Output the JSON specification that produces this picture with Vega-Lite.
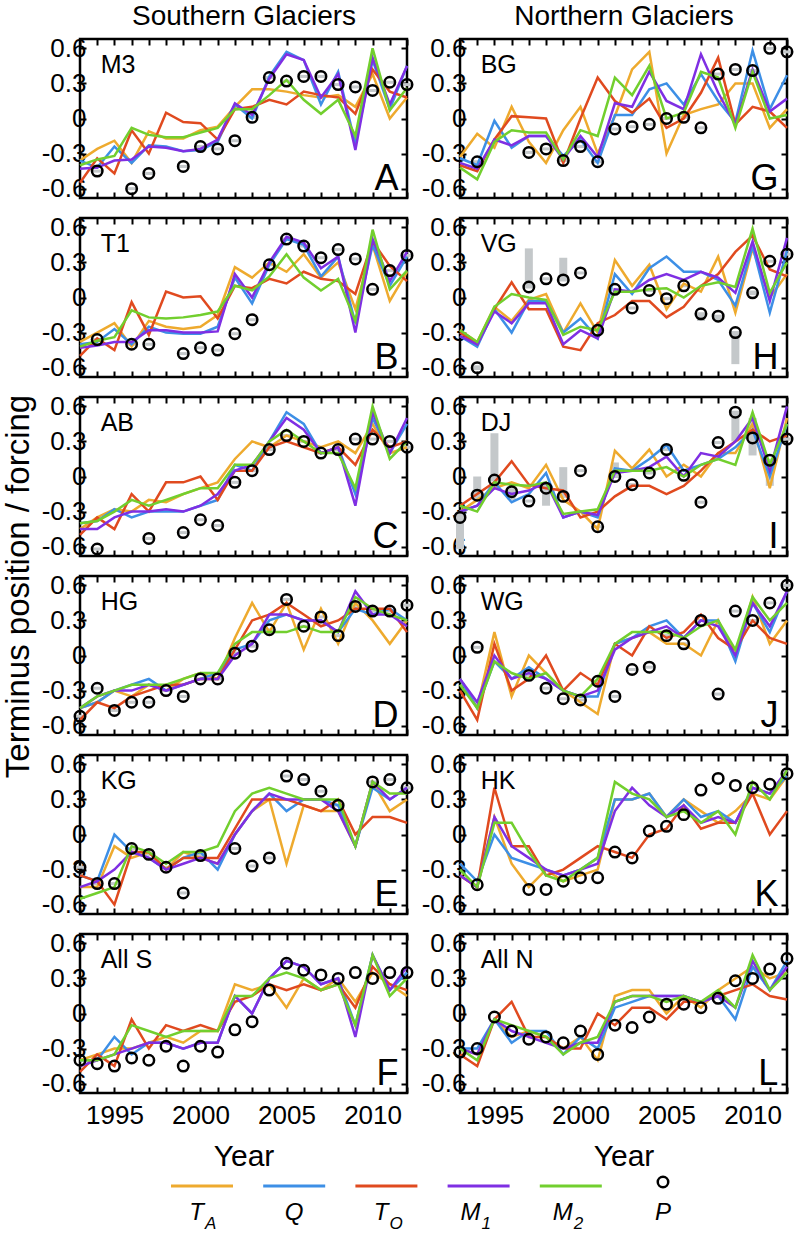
{
"$schema":"https://vega.github.io/schema/vega-lite/v6.json",
"padding":{"left":0,"top":0,"right":0,"bottom":0},
"background":"white",
"config":{"font":"Liberation Sans","view":{"stroke":"black","strokeWidth":2.5},
"axis":{"domain":false,"grid":false,"tickColor":"black","tickWidth":2,"tickSize":-6,"labelFont":"Liberation Sans","labelFontSize":26,"labelColor":"black","labelPadding":0,"labelOverlap":false,"labelFlush":false,"labelBound":false,"titleFont":"Liberation Sans","titleFontSize":30,"titleFontWeight":"normal","titleColor":"black"}},
"datasets":{
"lab":[{"p":"A","name":"M3"},{"p":"B","name":"T1"},{"p":"C","name":"AB"},{"p":"D","name":"HG"},{"p":"E","name":"KG"},{"p":"F","name":"All S"},{"p":"G","name":"BG"},{"p":"H","name":"VG"},{"p":"I","name":"DJ"},{"p":"J","name":"WG"},{"p":"K","name":"HK"},{"p":"L","name":"All N"}],
"leg":[{"k":"TA","m":"T","s":"A"},{"k":"Q","m":"Q","s":""},{"k":"TO","m":"T","s":"O"},{"k":"M1","m":"M","s":"1"},{"k":"M2","m":"M","s":"2"},{"k":"P","m":"P","s":""}],
"bars":[{"p":"H","y":1994,"lo":-0.62,"hi":-0.58},{"p":"H","y":1997,"lo":0.09,"hi":0.42},{"p":"H","y":1999,"lo":0.15,"hi":0.34},{"p":"H","y":2007,"lo":-0.2,"hi":-0.13},{"p":"H","y":2008,"lo":-0.2,"hi":-0.15},{"p":"H","y":2009,"lo":-0.57,"hi":-0.3},{"p":"H","y":2010,"lo":0.02,"hi":0.06},
{"p":"I","y":1993,"lo":-0.62,"hi":-0.3},{"p":"I","y":1994,"lo":-0.2,"hi":0.0},{"p":"I","y":1995,"lo":-0.03,"hi":0.37},{"p":"I","y":1996,"lo":-0.2,"hi":-0.1},{"p":"I","y":1998,"lo":-0.25,"hi":-0.05},{"p":"I","y":1999,"lo":-0.17,"hi":0.08},{"p":"I","y":2002,"lo":0.0,"hi":0.12},{"p":"I","y":2009,"lo":0.3,"hi":0.55},{"p":"I","y":2010,"lo":0.18,"hi":0.5},{"p":"I","y":2011,"lo":-0.08,"hi":0.15}],
"d":[
{"p":"A","y":1993,"TA":-0.36,"Q":-0.36,"TO":-0.55,"M1":-0.43,"M2":-0.4,"P":null},
{"p":"A","y":1994,"TA":-0.26,"Q":-0.42,"TO":-0.34,"M1":-0.42,"M2":-0.35,"P":-0.45},
{"p":"A","y":1995,"TA":-0.19,"Q":-0.24,"TO":-0.47,"M1":-0.36,"M2":-0.32,"P":null},
{"p":"A","y":1996,"TA":-0.38,"Q":-0.38,"TO":-0.1,"M1":-0.35,"M2":-0.08,"P":-0.6},
{"p":"A","y":1997,"TA":-0.11,"Q":-0.23,"TO":-0.3,"M1":-0.24,"M2":-0.14,"P":-0.47},
{"p":"A","y":1998,"TA":-0.17,"Q":-0.24,"TO":0.05,"M1":-0.25,"M2":-0.16,"P":null},
{"p":"A","y":1999,"TA":-0.17,"Q":-0.28,"TO":-0.03,"M1":-0.28,"M2":-0.16,"P":-0.41},
{"p":"A","y":2000,"TA":-0.1,"Q":-0.27,"TO":-0.04,"M1":-0.26,"M2":-0.12,"P":-0.24},
{"p":"A","y":2001,"TA":-0.07,"Q":-0.2,"TO":-0.18,"M1":-0.18,"M2":-0.08,"P":-0.26},
{"p":"A","y":2002,"TA":0.1,"Q":0.12,"TO":0.08,"M1":0.13,"M2":0.08,"P":-0.19},
{"p":"A","y":2003,"TA":0.25,"Q":0.0,"TO":0.1,"M1":0.03,"M2":0.08,"P":0.01},
{"p":"A","y":2004,"TA":0.25,"Q":0.36,"TO":0.16,"M1":0.34,"M2":0.2,"P":0.35},
{"p":"A","y":2005,"TA":0.23,"Q":0.57,"TO":0.12,"M1":0.55,"M2":0.33,"P":0.32},
{"p":"A","y":2006,"TA":0.2,"Q":0.5,"TO":0.23,"M1":0.5,"M2":0.16,"P":0.36},
{"p":"A","y":2007,"TA":0.18,"Q":0.12,"TO":0.2,"M1":0.18,"M2":0.04,"P":0.36},
{"p":"A","y":2008,"TA":0.2,"Q":0.4,"TO":0.18,"M1":0.38,"M2":0.16,"P":0.29},
{"p":"A","y":2009,"TA":0.1,"Q":-0.22,"TO":0.04,"M1":-0.27,"M2":-0.15,"P":0.27},
{"p":"A","y":2010,"TA":0.38,"Q":0.5,"TO":0.42,"M1":0.52,"M2":0.6,"P":0.24},
{"p":"A","y":2011,"TA":0.0,"Q":0.08,"TO":0.23,"M1":0.12,"M2":0.07,"P":0.31},
{"p":"A","y":2012,"TA":0.18,"Q":0.45,"TO":0.18,"M1":0.45,"M2":0.26,"P":0.29},
{"p":"B","y":1993,"TA":-0.38,"Q":-0.4,"TO":-0.5,"M1":-0.43,"M2":-0.42,"P":null},
{"p":"B","y":1994,"TA":-0.3,"Q":-0.38,"TO":-0.35,"M1":-0.41,"M2":-0.37,"P":-0.36},
{"p":"B","y":1995,"TA":-0.22,"Q":-0.27,"TO":-0.45,"M1":-0.38,"M2":-0.34,"P":null},
{"p":"B","y":1996,"TA":-0.42,"Q":-0.4,"TO":-0.04,"M1":-0.38,"M2":-0.11,"P":-0.4},
{"p":"B","y":1997,"TA":-0.2,"Q":-0.25,"TO":-0.32,"M1":-0.28,"M2":-0.17,"P":-0.4},
{"p":"B","y":1998,"TA":-0.25,"Q":-0.3,"TO":0.05,"M1":-0.28,"M2":-0.18,"P":null},
{"p":"B","y":1999,"TA":-0.27,"Q":-0.31,"TO":0.0,"M1":-0.3,"M2":-0.17,"P":-0.48},
{"p":"B","y":2000,"TA":-0.25,"Q":-0.31,"TO":0.01,"M1":-0.3,"M2":-0.15,"P":-0.43},
{"p":"B","y":2001,"TA":-0.15,"Q":-0.25,"TO":-0.18,"M1":-0.29,"M2":-0.12,"P":-0.45},
{"p":"B","y":2002,"TA":0.26,"Q":0.17,"TO":0.1,"M1":0.2,"M2":0.1,"P":-0.31},
{"p":"B","y":2003,"TA":0.17,"Q":-0.05,"TO":0.08,"M1":0.0,"M2":0.06,"P":-0.19},
{"p":"B","y":2004,"TA":0.3,"Q":0.28,"TO":0.16,"M1":0.3,"M2":0.18,"P":0.28},
{"p":"B","y":2005,"TA":0.22,"Q":0.5,"TO":0.12,"M1":0.52,"M2":0.37,"P":0.5},
{"p":"B","y":2006,"TA":0.37,"Q":0.45,"TO":0.22,"M1":0.47,"M2":0.17,"P":0.44},
{"p":"B","y":2007,"TA":0.17,"Q":0.18,"TO":0.16,"M1":0.25,"M2":0.06,"P":0.34},
{"p":"B","y":2008,"TA":0.3,"Q":0.35,"TO":0.14,"M1":0.35,"M2":0.16,"P":0.41},
{"p":"B","y":2009,"TA":-0.1,"Q":-0.22,"TO":0.03,"M1":-0.3,"M2":-0.2,"P":0.33},
{"p":"B","y":2010,"TA":0.45,"Q":0.45,"TO":0.48,"M1":0.5,"M2":0.58,"P":0.07},
{"p":"B","y":2011,"TA":-0.03,"Q":0.1,"TO":0.27,"M1":0.14,"M2":0.07,"P":0.23},
{"p":"B","y":2012,"TA":0.22,"Q":0.35,"TO":0.14,"M1":0.39,"M2":0.23,"P":0.36},
{"p":"C","y":1993,"TA":-0.45,"Q":-0.4,"TO":-0.5,"M1":-0.45,"M2":-0.4,"P":null},
{"p":"C","y":1994,"TA":-0.35,"Q":-0.38,"TO":-0.35,"M1":-0.45,"M2":-0.38,"P":-0.62},
{"p":"C","y":1995,"TA":-0.28,"Q":-0.28,"TO":-0.45,"M1":-0.35,"M2":-0.3,"P":null},
{"p":"C","y":1996,"TA":-0.3,"Q":-0.35,"TO":-0.15,"M1":-0.3,"M2":-0.2,"P":null},
{"p":"C","y":1997,"TA":-0.2,"Q":-0.3,"TO":-0.3,"M1":-0.3,"M2":-0.25,"P":-0.53},
{"p":"C","y":1998,"TA":-0.22,"Q":-0.3,"TO":-0.05,"M1":-0.28,"M2":-0.2,"P":null},
{"p":"C","y":1999,"TA":-0.15,"Q":-0.3,"TO":-0.05,"M1":-0.3,"M2":-0.15,"P":-0.48},
{"p":"C","y":2000,"TA":-0.1,"Q":-0.25,"TO":0.0,"M1":-0.25,"M2":-0.1,"P":-0.37},
{"p":"C","y":2001,"TA":-0.05,"Q":-0.2,"TO":-0.2,"M1":-0.15,"M2":-0.1,"P":-0.42},
{"p":"C","y":2002,"TA":0.15,"Q":0.1,"TO":0.05,"M1":0.05,"M2":0.1,"P":-0.05},
{"p":"C","y":2003,"TA":0.3,"Q":0.05,"TO":0.05,"M1":0.1,"M2":0.1,"P":0.05},
{"p":"C","y":2004,"TA":0.25,"Q":0.3,"TO":0.25,"M1":0.3,"M2":0.3,"P":0.23},
{"p":"C","y":2005,"TA":0.35,"Q":0.55,"TO":0.3,"M1":0.5,"M2":0.4,"P":0.35},
{"p":"C","y":2006,"TA":0.3,"Q":0.45,"TO":0.25,"M1":0.4,"M2":0.3,"P":0.3},
{"p":"C","y":2007,"TA":0.25,"Q":0.2,"TO":0.2,"M1":0.2,"M2":0.2,"P":0.2},
{"p":"C","y":2008,"TA":0.3,"Q":0.25,"TO":0.25,"M1":0.25,"M2":0.2,"P":0.23},
{"p":"C","y":2009,"TA":0.2,"Q":-0.15,"TO":0.1,"M1":-0.25,"M2":-0.1,"P":0.32},
{"p":"C","y":2010,"TA":0.45,"Q":0.5,"TO":0.4,"M1":0.55,"M2":0.6,"P":0.32},
{"p":"C","y":2011,"TA":0.2,"Q":0.2,"TO":0.25,"M1":0.2,"M2":0.15,"P":0.3},
{"p":"C","y":2012,"TA":0.25,"Q":0.45,"TO":0.3,"M1":0.5,"M2":0.3,"P":0.25},
{"p":"D","y":1993,"TA":-0.45,"Q":-0.45,"TO":-0.55,"M1":-0.45,"M2":-0.45,"P":-0.52},
{"p":"D","y":1994,"TA":-0.4,"Q":-0.4,"TO":-0.4,"M1":-0.35,"M2":-0.35,"P":-0.28},
{"p":"D","y":1995,"TA":-0.3,"Q":-0.3,"TO":-0.45,"M1":-0.3,"M2":-0.3,"P":-0.47},
{"p":"D","y":1996,"TA":-0.35,"Q":-0.25,"TO":-0.35,"M1":-0.3,"M2":-0.25,"P":-0.4},
{"p":"D","y":1997,"TA":-0.25,"Q":-0.2,"TO":-0.3,"M1":-0.25,"M2":-0.25,"P":-0.4},
{"p":"D","y":1998,"TA":-0.3,"Q":-0.3,"TO":-0.25,"M1":-0.3,"M2":-0.25,"P":-0.3},
{"p":"D","y":1999,"TA":-0.2,"Q":-0.25,"TO":-0.25,"M1":-0.25,"M2":-0.2,"P":-0.35},
{"p":"D","y":2000,"TA":-0.15,"Q":-0.2,"TO":-0.2,"M1":-0.2,"M2":-0.15,"P":-0.2},
{"p":"D","y":2001,"TA":-0.2,"Q":-0.15,"TO":-0.2,"M1":-0.2,"M2":-0.15,"P":-0.2},
{"p":"D","y":2002,"TA":0.15,"Q":0.05,"TO":0.05,"M1":0.0,"M2":0.1,"P":0.02},
{"p":"D","y":2003,"TA":0.45,"Q":0.1,"TO":0.3,"M1":0.1,"M2":0.2,"P":0.08},
{"p":"D","y":2004,"TA":0.2,"Q":0.3,"TO":0.35,"M1":0.35,"M2":0.2,"P":0.22},
{"p":"D","y":2005,"TA":0.45,"Q":0.35,"TO":0.45,"M1":0.35,"M2":0.2,"P":0.48},
{"p":"D","y":2006,"TA":0.05,"Q":0.3,"TO":0.35,"M1":0.3,"M2":0.25,"P":0.25},
{"p":"D","y":2007,"TA":0.4,"Q":0.3,"TO":0.25,"M1":0.3,"M2":0.2,"P":0.33},
{"p":"D","y":2008,"TA":0.1,"Q":0.2,"TO":0.3,"M1":0.2,"M2":0.2,"P":0.17},
{"p":"D","y":2009,"TA":0.45,"Q":0.4,"TO":0.4,"M1":0.55,"M2":0.5,"P":0.42},
{"p":"D","y":2010,"TA":0.3,"Q":0.35,"TO":0.4,"M1":0.35,"M2":0.4,"P":0.38},
{"p":"D","y":2011,"TA":0.1,"Q":0.4,"TO":0.4,"M1":0.35,"M2":0.35,"P":0.38},
{"p":"D","y":2012,"TA":0.3,"Q":0.3,"TO":0.2,"M1":0.25,"M2":0.3,"P":0.43},
{"p":"E","y":1993,"TA":-0.45,"Q":-0.35,"TO":-0.35,"M1":-0.45,"M2":-0.55,"P":-0.28},
{"p":"E","y":1994,"TA":-0.45,"Q":-0.4,"TO":-0.4,"M1":-0.4,"M2":-0.5,"P":-0.42},
{"p":"E","y":1995,"TA":-0.1,"Q":0.0,"TO":-0.6,"M1":-0.3,"M2":-0.45,"P":-0.42},
{"p":"E","y":1996,"TA":-0.2,"Q":-0.15,"TO":-0.15,"M1":-0.15,"M2":-0.1,"P":-0.12},
{"p":"E","y":1997,"TA":-0.15,"Q":-0.2,"TO":-0.15,"M1":-0.2,"M2":-0.15,"P":-0.17},
{"p":"E","y":1998,"TA":-0.3,"Q":-0.3,"TO":-0.3,"M1":-0.3,"M2":-0.25,"P":-0.28},
{"p":"E","y":1999,"TA":-0.15,"Q":-0.2,"TO":-0.2,"M1":-0.25,"M2":-0.15,"P":-0.5},
{"p":"E","y":2000,"TA":-0.2,"Q":-0.15,"TO":-0.2,"M1":-0.2,"M2":-0.15,"P":-0.18},
{"p":"E","y":2001,"TA":-0.25,"Q":-0.3,"TO":-0.2,"M1":-0.25,"M2":-0.1,"P":null},
{"p":"E","y":2002,"TA":0.0,"Q":0.0,"TO":0.05,"M1":0.0,"M2":0.2,"P":-0.12},
{"p":"E","y":2003,"TA":0.2,"Q":0.2,"TO":0.3,"M1":0.2,"M2":0.35,"P":-0.27},
{"p":"E","y":2004,"TA":0.3,"Q":0.35,"TO":0.3,"M1":0.35,"M2":0.4,"P":-0.2},
{"p":"E","y":2005,"TA":-0.25,"Q":0.2,"TO":0.3,"M1":0.3,"M2":0.35,"P":0.5},
{"p":"E","y":2006,"TA":0.25,"Q":0.3,"TO":0.25,"M1":0.3,"M2":0.3,"P":0.47},
{"p":"E","y":2007,"TA":0.2,"Q":0.3,"TO":0.2,"M1":0.3,"M2":0.3,"P":0.37},
{"p":"E","y":2008,"TA":0.2,"Q":0.25,"TO":0.3,"M1":0.2,"M2":0.3,"P":0.25},
{"p":"E","y":2009,"TA":-0.1,"Q":-0.1,"TO":0.0,"M1":-0.1,"M2":-0.1,"P":null},
{"p":"E","y":2010,"TA":0.45,"Q":0.4,"TO":0.15,"M1":0.45,"M2":0.45,"P":0.45},
{"p":"E","y":2011,"TA":0.2,"Q":0.3,"TO":0.15,"M1":0.3,"M2":0.35,"P":0.47},
{"p":"E","y":2012,"TA":0.3,"Q":0.4,"TO":0.1,"M1":0.4,"M2":0.35,"P":0.4},
{"p":"F","y":1993,"TA":-0.4,"Q":-0.4,"TO":-0.5,"M1":-0.45,"M2":-0.4,"P":-0.4},
{"p":"F","y":1994,"TA":-0.35,"Q":-0.4,"TO":-0.35,"M1":-0.4,"M2":-0.4,"P":-0.43},
{"p":"F","y":1995,"TA":-0.3,"Q":-0.2,"TO":-0.45,"M1":-0.35,"M2":-0.35,"P":-0.45},
{"p":"F","y":1996,"TA":-0.3,"Q":-0.35,"TO":-0.05,"M1":-0.3,"M2":-0.1,"P":-0.38},
{"p":"F","y":1997,"TA":-0.25,"Q":-0.25,"TO":-0.3,"M1":-0.25,"M2":-0.15,"P":-0.4},
{"p":"F","y":1998,"TA":-0.2,"Q":-0.25,"TO":-0.1,"M1":-0.25,"M2":-0.2,"P":-0.28},
{"p":"F","y":1999,"TA":-0.25,"Q":-0.3,"TO":-0.15,"M1":-0.3,"M2":-0.15,"P":-0.45},
{"p":"F","y":2000,"TA":-0.15,"Q":-0.25,"TO":-0.1,"M1":-0.25,"M2":-0.15,"P":-0.28},
{"p":"F","y":2001,"TA":-0.15,"Q":-0.25,"TO":-0.15,"M1":-0.25,"M2":-0.15,"P":-0.33},
{"p":"F","y":2002,"TA":0.25,"Q":0.15,"TO":0.1,"M1":0.15,"M2":0.15,"P":-0.14},
{"p":"F","y":2003,"TA":0.2,"Q":0.0,"TO":0.15,"M1":0.0,"M2":0.15,"P":-0.07},
{"p":"F","y":2004,"TA":0.25,"Q":0.3,"TO":0.25,"M1":0.3,"M2":0.3,"P":0.2},
{"p":"F","y":2005,"TA":0.05,"Q":0.45,"TO":0.2,"M1":0.45,"M2":0.35,"P":0.43},
{"p":"F","y":2006,"TA":0.3,"Q":0.4,"TO":0.25,"M1":0.4,"M2":0.3,"P":0.37},
{"p":"F","y":2007,"TA":0.2,"Q":0.25,"TO":0.2,"M1":0.25,"M2":0.2,"P":0.33},
{"p":"F","y":2008,"TA":0.3,"Q":0.3,"TO":0.25,"M1":0.3,"M2":0.25,"P":0.3},
{"p":"F","y":2009,"TA":0.1,"Q":-0.1,"TO":0.05,"M1":-0.2,"M2":-0.1,"P":0.35},
{"p":"F","y":2010,"TA":0.35,"Q":0.5,"TO":0.4,"M1":0.5,"M2":0.5,"P":0.3},
{"p":"F","y":2011,"TA":0.25,"Q":0.2,"TO":0.25,"M1":0.2,"M2":0.15,"P":0.35},
{"p":"F","y":2012,"TA":0.15,"Q":0.35,"TO":0.2,"M1":0.4,"M2":0.3,"P":0.35},
{"p":"G","y":1993,"TA":-0.33,"Q":-0.34,"TO":-0.4,"M1":-0.38,"M2":-0.42,"P":null},
{"p":"G","y":1994,"TA":-0.13,"Q":-0.4,"TO":-0.45,"M1":-0.43,"M2":-0.52,"P":-0.37},
{"p":"G","y":1995,"TA":-0.25,"Q":-0.02,"TO":-0.18,"M1":-0.18,"M2":-0.2,"P":null},
{"p":"G","y":1996,"TA":0.1,"Q":-0.25,"TO":0.02,"M1":-0.23,"M2":-0.1,"P":null},
{"p":"G","y":1997,"TA":-0.2,"Q":-0.15,"TO":0.01,"M1":-0.15,"M2":-0.12,"P":-0.29},
{"p":"G","y":1998,"TA":-0.38,"Q":-0.15,"TO":0.0,"M1":-0.15,"M2":-0.12,"P":-0.26},
{"p":"G","y":1999,"TA":-0.1,"Q":-0.32,"TO":-0.38,"M1":-0.35,"M2":-0.35,"P":-0.36},
{"p":"G","y":2000,"TA":0.1,"Q":-0.18,"TO":0.0,"M1":-0.15,"M2":-0.1,"P":-0.24},
{"p":"G","y":2001,"TA":-0.3,"Q":-0.38,"TO":0.35,"M1":-0.33,"M2":-0.15,"P":-0.37},
{"p":"G","y":2002,"TA":0.02,"Q":0.03,"TO":0.15,"M1":0.13,"M2":0.35,"P":-0.09},
{"p":"G","y":2003,"TA":0.42,"Q":0.03,"TO":0.05,"M1":0.1,"M2":0.2,"P":-0.07},
{"p":"G","y":2004,"TA":0.57,"Q":0.25,"TO":0.17,"M1":0.4,"M2":0.45,"P":-0.05},
{"p":"G","y":2005,"TA":-0.3,"Q":0.3,"TO":-0.08,"M1":0.15,"M2":0.0,"P":0.0},
{"p":"G","y":2006,"TA":0.03,"Q":0.12,"TO":0.0,"M1":0.08,"M2":0.05,"P":0.01},
{"p":"G","y":2007,"TA":0.08,"Q":0.38,"TO":0.22,"M1":0.55,"M2":0.4,"P":-0.08},
{"p":"G","y":2008,"TA":0.12,"Q":0.15,"TO":0.52,"M1":0.22,"M2":0.35,"P":0.38},
{"p":"G","y":2009,"TA":0.3,"Q":-0.03,"TO":-0.05,"M1":-0.05,"M2":-0.08,"P":0.42},
{"p":"G","y":2010,"TA":0.3,"Q":0.58,"TO":0.1,"M1":0.42,"M2":0.4,"P":0.41},
{"p":"G","y":2011,"TA":-0.08,"Q":0.08,"TO":0.06,"M1":0.06,"M2":0.0,"P":0.6},
{"p":"G","y":2012,"TA":0.08,"Q":0.37,"TO":-0.08,"M1":0.17,"M2":0.03,"P":0.57},
{"p":"H","y":1993,"TA":-0.28,"Q":-0.33,"TO":-0.3,"M1":-0.33,"M2":-0.28,"P":null},
{"p":"H","y":1994,"TA":-0.38,"Q":-0.42,"TO":-0.4,"M1":-0.4,"M2":-0.38,"P":-0.6},
{"p":"H","y":1995,"TA":-0.08,"Q":-0.1,"TO":-0.1,"M1":-0.12,"M2":-0.08,"P":null},
{"p":"H","y":1996,"TA":-0.2,"Q":-0.3,"TO":0.13,"M1":-0.22,"M2":0.03,"P":null},
{"p":"H","y":1997,"TA":-0.02,"Q":-0.03,"TO":-0.1,"M1":-0.05,"M2":0.0,"P":0.09},
{"p":"H","y":1998,"TA":0.03,"Q":-0.03,"TO":-0.1,"M1":-0.05,"M2":-0.02,"P":0.16},
{"p":"H","y":1999,"TA":-0.3,"Q":-0.3,"TO":-0.42,"M1":-0.4,"M2":-0.32,"P":0.15},
{"p":"H","y":2000,"TA":-0.05,"Q":-0.18,"TO":-0.45,"M1":-0.28,"M2":-0.25,"P":0.21},
{"p":"H","y":2001,"TA":-0.3,"Q":-0.35,"TO":-0.22,"M1":-0.35,"M2":-0.28,"P":-0.28},
{"p":"H","y":2002,"TA":0.32,"Q":0.2,"TO":-0.15,"M1":0.07,"M2":0.05,"P":0.07},
{"p":"H","y":2003,"TA":0.1,"Q":0.03,"TO":-0.03,"M1":0.05,"M2":0.05,"P":-0.09},
{"p":"H","y":2004,"TA":0.28,"Q":0.25,"TO":-0.03,"M1":0.15,"M2":0.07,"P":0.06},
{"p":"H","y":2005,"TA":-0.1,"Q":0.35,"TO":-0.17,"M1":0.2,"M2":0.08,"P":-0.01},
{"p":"H","y":2006,"TA":0.12,"Q":0.22,"TO":-0.08,"M1":0.15,"M2":0.0,"P":0.1},
{"p":"H","y":2007,"TA":0.05,"Q":0.22,"TO":0.1,"M1":0.22,"M2":0.1,"P":-0.14},
{"p":"H","y":2008,"TA":0.35,"Q":0.15,"TO":0.2,"M1":0.17,"M2":0.13,"P":-0.16},
{"p":"H","y":2009,"TA":-0.13,"Q":-0.07,"TO":0.39,"M1":0.04,"M2":0.09,"P":-0.3},
{"p":"H","y":2010,"TA":0.42,"Q":0.44,"TO":0.53,"M1":0.48,"M2":0.59,"P":0.04},
{"p":"H","y":2011,"TA":0.0,"Q":-0.13,"TO":0.24,"M1":-0.03,"M2":0.04,"P":0.31},
{"p":"H","y":2012,"TA":0.2,"Q":0.4,"TO":0.18,"M1":0.51,"M2":0.3,"P":0.37},
{"p":"I","y":1993,"TA":-0.3,"Q":-0.3,"TO":-0.25,"M1":-0.3,"M2":-0.25,"P":-0.35},
{"p":"I","y":1994,"TA":-0.2,"Q":-0.25,"TO":-0.15,"M1":-0.25,"M2":-0.3,"P":-0.16},
{"p":"I","y":1995,"TA":-0.1,"Q":-0.05,"TO":-0.05,"M1":-0.1,"M2":-0.05,"P":-0.03},
{"p":"I","y":1996,"TA":-0.05,"Q":-0.22,"TO":0.13,"M1":-0.15,"M2":-0.07,"P":-0.13},
{"p":"I","y":1997,"TA":-0.1,"Q":-0.15,"TO":-0.07,"M1":-0.12,"M2":-0.08,"P":-0.21},
{"p":"I","y":1998,"TA":0.1,"Q":0.03,"TO":-0.1,"M1":-0.05,"M2":-0.05,"P":-0.1},
{"p":"I","y":1999,"TA":-0.2,"Q":-0.35,"TO":-0.12,"M1":-0.35,"M2":-0.32,"P":-0.17},
{"p":"I","y":2000,"TA":-0.3,"Q":-0.3,"TO":-0.35,"M1":-0.3,"M2":-0.3,"P":0.05},
{"p":"I","y":2001,"TA":-0.45,"Q":-0.35,"TO":-0.3,"M1":-0.33,"M2":-0.28,"P":-0.43},
{"p":"I","y":2002,"TA":0.22,"Q":0.07,"TO":-0.17,"M1":0.03,"M2":0.05,"P":0.0},
{"p":"I","y":2003,"TA":0.07,"Q":0.05,"TO":-0.08,"M1":0.05,"M2":0.05,"P":-0.07},
{"p":"I","y":2004,"TA":0.23,"Q":0.15,"TO":-0.08,"M1":0.08,"M2":0.05,"P":0.03},
{"p":"I","y":2005,"TA":0.0,"Q":0.27,"TO":-0.15,"M1":0.17,"M2":0.08,"P":0.23},
{"p":"I","y":2006,"TA":0.1,"Q":0.05,"TO":-0.08,"M1":0.0,"M2":0.0,"P":0.01},
{"p":"I","y":2007,"TA":0.0,"Q":0.1,"TO":0.05,"M1":0.2,"M2":0.1,"P":-0.22},
{"p":"I","y":2008,"TA":0.2,"Q":0.15,"TO":0.2,"M1":0.17,"M2":0.15,"P":0.29},
{"p":"I","y":2009,"TA":0.2,"Q":0.25,"TO":0.3,"M1":0.3,"M2":0.1,"P":0.55},
{"p":"I","y":2010,"TA":0.45,"Q":0.4,"TO":0.4,"M1":0.5,"M2":0.55,"P":0.33},
{"p":"I","y":2011,"TA":-0.1,"Q":0.0,"TO":0.3,"M1":0.05,"M2":0.1,"P":0.14},
{"p":"I","y":2012,"TA":0.5,"Q":0.45,"TO":0.35,"M1":0.6,"M2":0.45,"P":0.32},
{"p":"J","y":1993,"TA":-0.2,"Q":-0.2,"TO":-0.3,"M1":-0.2,"M2":-0.25,"P":null},
{"p":"J","y":1994,"TA":-0.45,"Q":-0.45,"TO":-0.55,"M1":-0.4,"M2":-0.45,"P":0.07},
{"p":"J","y":1995,"TA":0.2,"Q":-0.05,"TO":0.1,"M1":0.0,"M2":-0.05,"P":null},
{"p":"J","y":1996,"TA":-0.35,"Q":-0.2,"TO":-0.3,"M1":-0.2,"M2":-0.15,"P":null},
{"p":"J","y":1997,"TA":0.0,"Q":-0.1,"TO":-0.2,"M1":-0.15,"M2":-0.2,"P":-0.17},
{"p":"J","y":1998,"TA":-0.15,"Q":-0.2,"TO":0.0,"M1":-0.2,"M2":-0.15,"P":-0.28},
{"p":"J","y":1999,"TA":-0.3,"Q":-0.3,"TO":-0.3,"M1":-0.3,"M2":-0.3,"P":-0.37},
{"p":"J","y":2000,"TA":-0.4,"Q":-0.35,"TO":-0.15,"M1":-0.35,"M2":-0.35,"P":-0.38},
{"p":"J","y":2001,"TA":-0.5,"Q":-0.35,"TO":-0.25,"M1":-0.3,"M2":-0.2,"P":-0.22},
{"p":"J","y":2002,"TA":0.1,"Q":0.1,"TO":0.1,"M1":0.05,"M2":0.1,"P":-0.35},
{"p":"J","y":2003,"TA":0.15,"Q":0.15,"TO":0.0,"M1":0.15,"M2":0.2,"P":-0.12},
{"p":"J","y":2004,"TA":0.2,"Q":0.25,"TO":0.25,"M1":0.2,"M2":0.2,"P":-0.1},
{"p":"J","y":2005,"TA":0.1,"Q":0.3,"TO":0.15,"M1":0.25,"M2":0.2,"P":0.17},
{"p":"J","y":2006,"TA":0.1,"Q":0.15,"TO":0.2,"M1":0.15,"M2":0.15,"P":0.1},
{"p":"J","y":2007,"TA":0.0,"Q":0.3,"TO":0.35,"M1":0.3,"M2":0.25,"P":0.3},
{"p":"J","y":2008,"TA":0.3,"Q":0.3,"TO":0.15,"M1":0.25,"M2":0.3,"P":-0.33},
{"p":"J","y":2009,"TA":0.0,"Q":-0.05,"TO":0.05,"M1":0.0,"M2":0.05,"P":0.38},
{"p":"J","y":2010,"TA":0.5,"Q":0.45,"TO":0.3,"M1":0.45,"M2":0.5,"P":0.3},
{"p":"J","y":2011,"TA":0.1,"Q":0.2,"TO":0.15,"M1":0.25,"M2":0.3,"P":0.45},
{"p":"J","y":2012,"TA":0.3,"Q":0.55,"TO":0.1,"M1":0.55,"M2":0.45,"P":0.6},
{"p":"K","y":1993,"TA":-0.35,"Q":-0.25,"TO":-0.35,"M1":-0.35,"M2":-0.3,"P":null},
{"p":"K","y":1994,"TA":-0.45,"Q":-0.4,"TO":-0.45,"M1":-0.45,"M2":-0.45,"P":-0.43},
{"p":"K","y":1995,"TA":0.15,"Q":0.0,"TO":0.4,"M1":0.15,"M2":0.1,"P":null},
{"p":"K","y":1996,"TA":-0.25,"Q":-0.2,"TO":-0.1,"M1":-0.1,"M2":0.1,"P":null},
{"p":"K","y":1997,"TA":-0.45,"Q":-0.25,"TO":-0.1,"M1":-0.2,"M2":-0.15,"P":-0.47},
{"p":"K","y":1998,"TA":-0.3,"Q":-0.3,"TO":-0.35,"M1":-0.3,"M2":-0.35,"P":-0.47},
{"p":"K","y":1999,"TA":-0.4,"Q":-0.35,"TO":-0.3,"M1":-0.35,"M2":-0.4,"P":-0.4},
{"p":"K","y":2000,"TA":-0.35,"Q":-0.3,"TO":-0.2,"M1":-0.3,"M2":-0.3,"P":-0.37},
{"p":"K","y":2001,"TA":-0.3,"Q":-0.2,"TO":-0.1,"M1":-0.25,"M2":-0.2,"P":-0.37},
{"p":"K","y":2002,"TA":0.3,"Q":0.3,"TO":-0.15,"M1":0.2,"M2":0.45,"P":-0.15},
{"p":"K","y":2003,"TA":0.3,"Q":0.3,"TO":-0.2,"M1":0.4,"M2":0.35,"P":-0.2},
{"p":"K","y":2004,"TA":0.35,"Q":0.35,"TO":0.0,"M1":0.25,"M2":0.3,"P":0.03},
{"p":"K","y":2005,"TA":0.15,"Q":0.15,"TO":0.05,"M1":0.15,"M2":0.15,"P":0.07},
{"p":"K","y":2006,"TA":0.3,"Q":0.3,"TO":0.25,"M1":0.25,"M2":0.2,"P":0.17},
{"p":"K","y":2007,"TA":0.2,"Q":0.15,"TO":0.05,"M1":0.1,"M2":0.1,"P":0.38},
{"p":"K","y":2008,"TA":0.1,"Q":0.2,"TO":0.1,"M1":0.15,"M2":0.2,"P":0.48},
{"p":"K","y":2009,"TA":0.2,"Q":0.1,"TO":0.1,"M1":0.1,"M2":0.0,"P":0.42},
{"p":"K","y":2010,"TA":0.35,"Q":0.4,"TO":0.35,"M1":0.4,"M2":0.45,"P":0.4},
{"p":"K","y":2011,"TA":0.3,"Q":0.35,"TO":0.0,"M1":0.35,"M2":0.3,"P":0.43},
{"p":"K","y":2012,"TA":0.5,"Q":0.5,"TO":0.2,"M1":0.55,"M2":0.55,"P":0.52},
{"p":"L","y":1993,"TA":-0.3,"Q":-0.3,"TO":-0.35,"M1":-0.3,"M2":-0.3,"P":-0.33},
{"p":"L","y":1994,"TA":-0.35,"Q":-0.3,"TO":-0.45,"M1":-0.35,"M2":-0.4,"P":-0.3},
{"p":"L","y":1995,"TA":-0.05,"Q":-0.05,"TO":-0.05,"M1":-0.05,"M2":-0.05,"P":-0.03},
{"p":"L","y":1996,"TA":-0.2,"Q":-0.25,"TO":0.1,"M1":-0.15,"M2":-0.1,"P":-0.15},
{"p":"L","y":1997,"TA":-0.15,"Q":-0.15,"TO":-0.2,"M1":-0.2,"M2":-0.15,"P":-0.22},
{"p":"L","y":1998,"TA":-0.2,"Q":-0.15,"TO":-0.2,"M1":-0.25,"M2":-0.2,"P":-0.2},
{"p":"L","y":1999,"TA":-0.3,"Q":-0.35,"TO":-0.3,"M1":-0.3,"M2":-0.35,"P":-0.25},
{"p":"L","y":2000,"TA":-0.2,"Q":-0.2,"TO":-0.3,"M1":-0.25,"M2":-0.25,"P":-0.15},
{"p":"L","y":2001,"TA":-0.4,"Q":-0.3,"TO":0.0,"M1":-0.25,"M2":-0.2,"P":-0.35},
{"p":"L","y":2002,"TA":0.15,"Q":0.05,"TO":-0.1,"M1":0.1,"M2":0.1,"P":-0.1},
{"p":"L","y":2003,"TA":0.2,"Q":0.1,"TO":0.05,"M1":0.15,"M2":0.15,"P":-0.12},
{"p":"L","y":2004,"TA":0.2,"Q":0.15,"TO":0.05,"M1":0.15,"M2":0.15,"P":-0.03},
{"p":"L","y":2005,"TA":0.0,"Q":0.15,"TO":-0.05,"M1":0.15,"M2":0.1,"P":0.08},
{"p":"L","y":2006,"TA":0.15,"Q":0.15,"TO":0.1,"M1":0.15,"M2":0.15,"P":0.08},
{"p":"L","y":2007,"TA":0.05,"Q":0.1,"TO":0.1,"M1":0.1,"M2":0.1,"P":0.05},
{"p":"L","y":2008,"TA":0.2,"Q":0.15,"TO":0.15,"M1":0.15,"M2":0.2,"P":0.13},
{"p":"L","y":2009,"TA":0.3,"Q":-0.05,"TO":0.2,"M1":0.05,"M2":0.05,"P":0.28},
{"p":"L","y":2010,"TA":0.4,"Q":0.4,"TO":0.25,"M1":0.45,"M2":0.5,"P":0.3},
{"p":"L","y":2011,"TA":0.3,"Q":0.2,"TO":0.15,"M1":0.2,"M2":0.2,"P":0.38},
{"p":"L","y":2012,"TA":0.35,"Q":0.45,"TO":0.12,"M1":0.4,"M2":0.35,"P":0.47}
]},
"vconcat":[
{"columns":2,"spacing":{"row":20,"column":53},"bounds":"flush",
"concat":[
{"width":327,"height":159,"resolve":{"axis":{"x":"independent","y":"independent"}},"layer":[
{"data":{"name":"bars"},"transform":[{"filter":"datum.p==='A'"}],"mark":{"type":"rule","strokeWidth":8,"color":"#c4c8ca"},"encoding":{"x":{"field":"y","type":"quantitative","scale":{"domain":[1993,2012],"nice":false,"zero":false},"axis":null},"y":{"field":"lo","type":"quantitative","scale":{"domain":[-0.68,0.68],"nice":false,"zero":false},"axis":null},"y2":{"field":"hi"}}},
{"data":{"name":"d"},"transform":[{"filter":"datum.p==='A' && datum.P != null"}],"mark":{"type":"tick","orient":"horizontal","size":9,"thickness":3,"color":"#c4c8ca","opacity":1},"encoding":{"x":{"field":"y","type":"quantitative","axis":null},"y":{"field":"P","type":"quantitative","axis":null}}},
{"data":{"name":"d"},"transform":[{"filter":"datum.p==='A'"},{"fold":["TA","Q","TO","M1","M2"],"as":["k","v"]}],"mark":{"type":"line","strokeWidth":2.5},"encoding":{"x":{"field":"y","type":"quantitative","scale":{"domain":[1993,2012],"nice":false,"zero":false},"axis":{"orient":"bottom","values":[1993,1994,1995,1996,1997,1998,1999,2000,2001,2002,2003,2004,2005,2006,2007,2008,2009,2010,2011,2012],"labels":false,"title":null}},"y":{"field":"v","type":"quantitative","scale":{"domain":[-0.68,0.68],"nice":false,"zero":false},"axis":{"orient":"left","values":[-0.6,-0.3,0,0.3,0.6],"labelExpr":"datum.value == 0 ? '0' : (datum.value < 0 ? '-' : '') + format(abs(datum.value), '.1f')","title":null}},"color":{"field":"k","type":"nominal","scale":{"domain":["TA","Q","TO","M1","M2"],"range":["#EEAA2E","#3D8FE6","#E04A1F","#7F2FE3","#72CF2E"]},"legend":null}}},
{"data":{"name":"d"},"transform":[{"filter":"datum.p==='A' && datum.P != null"}],"mark":{"type":"point","shape":"circle","size":110,"filled":false,"color":"black","strokeWidth":2.5,"opacity":1},"encoding":{"x":{"field":"y","type":"quantitative","scale":{"domain":[1993,2012],"nice":false,"zero":false},"axis":{"orient":"top","values":[1993,1994,1995,1996,1997,1998,1999,2000,2001,2002,2003,2004,2005,2006,2007,2008,2009,2010,2011,2012],"labels":false,"title":"Southern Glaciers","titleFontSize":28,"titlePadding":14,"titleBaseline":"alphabetic"}},"y":{"field":"P","type":"quantitative","scale":{"domain":[-0.68,0.68],"nice":false,"zero":false},"axis":{"orient":"right","values":[-0.6,-0.3,0,0.3,0.6],"labels":false,"title":null}}}},
{"data":{"name":"lab"},"transform":[{"filter":"datum.p==='A'"}],"mark":{"type":"text","align":"left","baseline":"alphabetic","fontSize":25},"encoding":{"x":{"datum":1994.2,"type":"quantitative","axis":null},"y":{"datum":0.39,"type":"quantitative","axis":null},"text":{"field":"name"}}},
{"data":{"name":"lab"},"transform":[{"filter":"datum.p==='A'"}],"mark":{"type":"text","align":"right","baseline":"alphabetic","fontSize":36},"encoding":{"x":{"datum":2011.5,"type":"quantitative","axis":null},"y":{"datum":-0.61,"type":"quantitative","axis":null},"text":{"field":"p"}}}]},
{"width":327,"height":159,"resolve":{"axis":{"x":"independent","y":"independent"}},"layer":[
{"data":{"name":"bars"},"transform":[{"filter":"datum.p==='G'"}],"mark":{"type":"rule","strokeWidth":8,"color":"#c4c8ca"},"encoding":{"x":{"field":"y","type":"quantitative","scale":{"domain":[1993,2012],"nice":false,"zero":false},"axis":null},"y":{"field":"lo","type":"quantitative","scale":{"domain":[-0.68,0.68],"nice":false,"zero":false},"axis":null},"y2":{"field":"hi"}}},
{"data":{"name":"d"},"transform":[{"filter":"datum.p==='G' && datum.P != null"}],"mark":{"type":"tick","orient":"horizontal","size":9,"thickness":3,"color":"#c4c8ca","opacity":1},"encoding":{"x":{"field":"y","type":"quantitative","axis":null},"y":{"field":"P","type":"quantitative","axis":null}}},
{"data":{"name":"d"},"transform":[{"filter":"datum.p==='G'"},{"fold":["TA","Q","TO","M1","M2"],"as":["k","v"]}],"mark":{"type":"line","strokeWidth":2.5},"encoding":{"x":{"field":"y","type":"quantitative","scale":{"domain":[1993,2012],"nice":false,"zero":false},"axis":{"orient":"bottom","values":[1993,1994,1995,1996,1997,1998,1999,2000,2001,2002,2003,2004,2005,2006,2007,2008,2009,2010,2011,2012],"labels":false,"title":null}},"y":{"field":"v","type":"quantitative","scale":{"domain":[-0.68,0.68],"nice":false,"zero":false},"axis":{"orient":"left","values":[-0.6,-0.3,0,0.3,0.6],"labelExpr":"datum.value == 0 ? '0' : (datum.value < 0 ? '-' : '') + format(abs(datum.value), '.1f')","title":null}},"color":{"field":"k","type":"nominal","scale":{"domain":["TA","Q","TO","M1","M2"],"range":["#EEAA2E","#3D8FE6","#E04A1F","#7F2FE3","#72CF2E"]},"legend":null}}},
{"data":{"name":"d"},"transform":[{"filter":"datum.p==='G' && datum.P != null"}],"mark":{"type":"point","shape":"circle","size":110,"filled":false,"color":"black","strokeWidth":2.5,"opacity":1},"encoding":{"x":{"field":"y","type":"quantitative","scale":{"domain":[1993,2012],"nice":false,"zero":false},"axis":{"orient":"top","values":[1993,1994,1995,1996,1997,1998,1999,2000,2001,2002,2003,2004,2005,2006,2007,2008,2009,2010,2011,2012],"labels":false,"title":"Northern Glaciers","titleFontSize":28,"titlePadding":14,"titleBaseline":"alphabetic"}},"y":{"field":"P","type":"quantitative","scale":{"domain":[-0.68,0.68],"nice":false,"zero":false},"axis":{"orient":"right","values":[-0.6,-0.3,0,0.3,0.6],"labels":false,"title":null}}}},
{"data":{"name":"lab"},"transform":[{"filter":"datum.p==='G'"}],"mark":{"type":"text","align":"left","baseline":"alphabetic","fontSize":25},"encoding":{"x":{"datum":1994.2,"type":"quantitative","axis":null},"y":{"datum":0.39,"type":"quantitative","axis":null},"text":{"field":"name"}}},
{"data":{"name":"lab"},"transform":[{"filter":"datum.p==='G'"}],"mark":{"type":"text","align":"right","baseline":"alphabetic","fontSize":36},"encoding":{"x":{"datum":2011.5,"type":"quantitative","axis":null},"y":{"datum":-0.61,"type":"quantitative","axis":null},"text":{"field":"p"}}}]},
{"width":327,"height":159,"resolve":{"axis":{"x":"independent","y":"independent"}},"layer":[
{"data":{"name":"bars"},"transform":[{"filter":"datum.p==='B'"}],"mark":{"type":"rule","strokeWidth":8,"color":"#c4c8ca"},"encoding":{"x":{"field":"y","type":"quantitative","scale":{"domain":[1993,2012],"nice":false,"zero":false},"axis":null},"y":{"field":"lo","type":"quantitative","scale":{"domain":[-0.68,0.68],"nice":false,"zero":false},"axis":null},"y2":{"field":"hi"}}},
{"data":{"name":"d"},"transform":[{"filter":"datum.p==='B' && datum.P != null"}],"mark":{"type":"tick","orient":"horizontal","size":9,"thickness":3,"color":"#c4c8ca","opacity":1},"encoding":{"x":{"field":"y","type":"quantitative","axis":null},"y":{"field":"P","type":"quantitative","axis":null}}},
{"data":{"name":"d"},"transform":[{"filter":"datum.p==='B'"},{"fold":["TA","Q","TO","M1","M2"],"as":["k","v"]}],"mark":{"type":"line","strokeWidth":2.5},"encoding":{"x":{"field":"y","type":"quantitative","scale":{"domain":[1993,2012],"nice":false,"zero":false},"axis":{"orient":"bottom","values":[1993,1994,1995,1996,1997,1998,1999,2000,2001,2002,2003,2004,2005,2006,2007,2008,2009,2010,2011,2012],"labels":false,"title":null}},"y":{"field":"v","type":"quantitative","scale":{"domain":[-0.68,0.68],"nice":false,"zero":false},"axis":{"orient":"left","values":[-0.6,-0.3,0,0.3,0.6],"labelExpr":"datum.value == 0 ? '0' : (datum.value < 0 ? '-' : '') + format(abs(datum.value), '.1f')","title":null}},"color":{"field":"k","type":"nominal","scale":{"domain":["TA","Q","TO","M1","M2"],"range":["#EEAA2E","#3D8FE6","#E04A1F","#7F2FE3","#72CF2E"]},"legend":null}}},
{"data":{"name":"d"},"transform":[{"filter":"datum.p==='B' && datum.P != null"}],"mark":{"type":"point","shape":"circle","size":110,"filled":false,"color":"black","strokeWidth":2.5,"opacity":1},"encoding":{"x":{"field":"y","type":"quantitative","scale":{"domain":[1993,2012],"nice":false,"zero":false},"axis":{"orient":"top","values":[1993,1994,1995,1996,1997,1998,1999,2000,2001,2002,2003,2004,2005,2006,2007,2008,2009,2010,2011,2012],"labels":false,"title":null}},"y":{"field":"P","type":"quantitative","scale":{"domain":[-0.68,0.68],"nice":false,"zero":false},"axis":{"orient":"right","values":[-0.6,-0.3,0,0.3,0.6],"labels":false,"title":null}}}},
{"data":{"name":"lab"},"transform":[{"filter":"datum.p==='B'"}],"mark":{"type":"text","align":"left","baseline":"alphabetic","fontSize":25},"encoding":{"x":{"datum":1994.2,"type":"quantitative","axis":null},"y":{"datum":0.39,"type":"quantitative","axis":null},"text":{"field":"name"}}},
{"data":{"name":"lab"},"transform":[{"filter":"datum.p==='B'"}],"mark":{"type":"text","align":"right","baseline":"alphabetic","fontSize":36},"encoding":{"x":{"datum":2011.5,"type":"quantitative","axis":null},"y":{"datum":-0.61,"type":"quantitative","axis":null},"text":{"field":"p"}}}]},
{"width":327,"height":159,"resolve":{"axis":{"x":"independent","y":"independent"}},"layer":[
{"data":{"name":"bars"},"transform":[{"filter":"datum.p==='H'"}],"mark":{"type":"rule","strokeWidth":8,"color":"#c4c8ca"},"encoding":{"x":{"field":"y","type":"quantitative","scale":{"domain":[1993,2012],"nice":false,"zero":false},"axis":null},"y":{"field":"lo","type":"quantitative","scale":{"domain":[-0.68,0.68],"nice":false,"zero":false},"axis":null},"y2":{"field":"hi"}}},
{"data":{"name":"d"},"transform":[{"filter":"datum.p==='H' && datum.P != null"}],"mark":{"type":"tick","orient":"horizontal","size":9,"thickness":3,"color":"#c4c8ca","opacity":1},"encoding":{"x":{"field":"y","type":"quantitative","axis":null},"y":{"field":"P","type":"quantitative","axis":null}}},
{"data":{"name":"d"},"transform":[{"filter":"datum.p==='H'"},{"fold":["TA","Q","TO","M1","M2"],"as":["k","v"]}],"mark":{"type":"line","strokeWidth":2.5},"encoding":{"x":{"field":"y","type":"quantitative","scale":{"domain":[1993,2012],"nice":false,"zero":false},"axis":{"orient":"bottom","values":[1993,1994,1995,1996,1997,1998,1999,2000,2001,2002,2003,2004,2005,2006,2007,2008,2009,2010,2011,2012],"labels":false,"title":null}},"y":{"field":"v","type":"quantitative","scale":{"domain":[-0.68,0.68],"nice":false,"zero":false},"axis":{"orient":"left","values":[-0.6,-0.3,0,0.3,0.6],"labelExpr":"datum.value == 0 ? '0' : (datum.value < 0 ? '-' : '') + format(abs(datum.value), '.1f')","title":null}},"color":{"field":"k","type":"nominal","scale":{"domain":["TA","Q","TO","M1","M2"],"range":["#EEAA2E","#3D8FE6","#E04A1F","#7F2FE3","#72CF2E"]},"legend":null}}},
{"data":{"name":"d"},"transform":[{"filter":"datum.p==='H' && datum.P != null"}],"mark":{"type":"point","shape":"circle","size":110,"filled":false,"color":"black","strokeWidth":2.5,"opacity":1},"encoding":{"x":{"field":"y","type":"quantitative","scale":{"domain":[1993,2012],"nice":false,"zero":false},"axis":{"orient":"top","values":[1993,1994,1995,1996,1997,1998,1999,2000,2001,2002,2003,2004,2005,2006,2007,2008,2009,2010,2011,2012],"labels":false,"title":null}},"y":{"field":"P","type":"quantitative","scale":{"domain":[-0.68,0.68],"nice":false,"zero":false},"axis":{"orient":"right","values":[-0.6,-0.3,0,0.3,0.6],"labels":false,"title":null}}}},
{"data":{"name":"lab"},"transform":[{"filter":"datum.p==='H'"}],"mark":{"type":"text","align":"left","baseline":"alphabetic","fontSize":25},"encoding":{"x":{"datum":1994.2,"type":"quantitative","axis":null},"y":{"datum":0.39,"type":"quantitative","axis":null},"text":{"field":"name"}}},
{"data":{"name":"lab"},"transform":[{"filter":"datum.p==='H'"}],"mark":{"type":"text","align":"right","baseline":"alphabetic","fontSize":36},"encoding":{"x":{"datum":2011.5,"type":"quantitative","axis":null},"y":{"datum":-0.61,"type":"quantitative","axis":null},"text":{"field":"p"}}}]},
{"width":327,"height":159,"resolve":{"axis":{"x":"independent","y":"independent"}},"layer":[
{"data":{"name":"bars"},"transform":[{"filter":"datum.p==='C'"}],"mark":{"type":"rule","strokeWidth":8,"color":"#c4c8ca"},"encoding":{"x":{"field":"y","type":"quantitative","scale":{"domain":[1993,2012],"nice":false,"zero":false},"axis":null},"y":{"field":"lo","type":"quantitative","scale":{"domain":[-0.68,0.68],"nice":false,"zero":false},"axis":null},"y2":{"field":"hi"}}},
{"data":{"name":"d"},"transform":[{"filter":"datum.p==='C' && datum.P != null"}],"mark":{"type":"tick","orient":"horizontal","size":9,"thickness":3,"color":"#c4c8ca","opacity":1},"encoding":{"x":{"field":"y","type":"quantitative","axis":null},"y":{"field":"P","type":"quantitative","axis":null}}},
{"data":{"name":"d"},"transform":[{"filter":"datum.p==='C'"},{"fold":["TA","Q","TO","M1","M2"],"as":["k","v"]}],"mark":{"type":"line","strokeWidth":2.5},"encoding":{"x":{"field":"y","type":"quantitative","scale":{"domain":[1993,2012],"nice":false,"zero":false},"axis":{"orient":"bottom","values":[1993,1994,1995,1996,1997,1998,1999,2000,2001,2002,2003,2004,2005,2006,2007,2008,2009,2010,2011,2012],"labels":false,"title":null}},"y":{"field":"v","type":"quantitative","scale":{"domain":[-0.68,0.68],"nice":false,"zero":false},"axis":{"orient":"left","values":[-0.6,-0.3,0,0.3,0.6],"labelExpr":"datum.value == 0 ? '0' : (datum.value < 0 ? '-' : '') + format(abs(datum.value), '.1f')","title":null}},"color":{"field":"k","type":"nominal","scale":{"domain":["TA","Q","TO","M1","M2"],"range":["#EEAA2E","#3D8FE6","#E04A1F","#7F2FE3","#72CF2E"]},"legend":null}}},
{"data":{"name":"d"},"transform":[{"filter":"datum.p==='C' && datum.P != null"}],"mark":{"type":"point","shape":"circle","size":110,"filled":false,"color":"black","strokeWidth":2.5,"opacity":1},"encoding":{"x":{"field":"y","type":"quantitative","scale":{"domain":[1993,2012],"nice":false,"zero":false},"axis":{"orient":"top","values":[1993,1994,1995,1996,1997,1998,1999,2000,2001,2002,2003,2004,2005,2006,2007,2008,2009,2010,2011,2012],"labels":false,"title":null}},"y":{"field":"P","type":"quantitative","scale":{"domain":[-0.68,0.68],"nice":false,"zero":false},"axis":{"orient":"right","values":[-0.6,-0.3,0,0.3,0.6],"labels":false,"title":null}}}},
{"data":{"name":"lab"},"transform":[{"filter":"datum.p==='C'"}],"mark":{"type":"text","align":"left","baseline":"alphabetic","fontSize":25},"encoding":{"x":{"datum":1994.2,"type":"quantitative","axis":null},"y":{"datum":0.39,"type":"quantitative","axis":null},"text":{"field":"name"}}},
{"data":{"name":"lab"},"transform":[{"filter":"datum.p==='C'"}],"mark":{"type":"text","align":"right","baseline":"alphabetic","fontSize":36},"encoding":{"x":{"datum":2011.5,"type":"quantitative","axis":null},"y":{"datum":-0.61,"type":"quantitative","axis":null},"text":{"field":"p"}}}]},
{"width":327,"height":159,"resolve":{"axis":{"x":"independent","y":"independent"}},"layer":[
{"data":{"name":"bars"},"transform":[{"filter":"datum.p==='I'"}],"mark":{"type":"rule","strokeWidth":8,"color":"#c4c8ca"},"encoding":{"x":{"field":"y","type":"quantitative","scale":{"domain":[1993,2012],"nice":false,"zero":false},"axis":null},"y":{"field":"lo","type":"quantitative","scale":{"domain":[-0.68,0.68],"nice":false,"zero":false},"axis":null},"y2":{"field":"hi"}}},
{"data":{"name":"d"},"transform":[{"filter":"datum.p==='I' && datum.P != null"}],"mark":{"type":"tick","orient":"horizontal","size":9,"thickness":3,"color":"#c4c8ca","opacity":1},"encoding":{"x":{"field":"y","type":"quantitative","axis":null},"y":{"field":"P","type":"quantitative","axis":null}}},
{"data":{"name":"d"},"transform":[{"filter":"datum.p==='I'"},{"fold":["TA","Q","TO","M1","M2"],"as":["k","v"]}],"mark":{"type":"line","strokeWidth":2.5},"encoding":{"x":{"field":"y","type":"quantitative","scale":{"domain":[1993,2012],"nice":false,"zero":false},"axis":{"orient":"bottom","values":[1993,1994,1995,1996,1997,1998,1999,2000,2001,2002,2003,2004,2005,2006,2007,2008,2009,2010,2011,2012],"labels":false,"title":null}},"y":{"field":"v","type":"quantitative","scale":{"domain":[-0.68,0.68],"nice":false,"zero":false},"axis":{"orient":"left","values":[-0.6,-0.3,0,0.3,0.6],"labelExpr":"datum.value == 0 ? '0' : (datum.value < 0 ? '-' : '') + format(abs(datum.value), '.1f')","title":null}},"color":{"field":"k","type":"nominal","scale":{"domain":["TA","Q","TO","M1","M2"],"range":["#EEAA2E","#3D8FE6","#E04A1F","#7F2FE3","#72CF2E"]},"legend":null}}},
{"data":{"name":"d"},"transform":[{"filter":"datum.p==='I' && datum.P != null"}],"mark":{"type":"point","shape":"circle","size":110,"filled":false,"color":"black","strokeWidth":2.5,"opacity":1},"encoding":{"x":{"field":"y","type":"quantitative","scale":{"domain":[1993,2012],"nice":false,"zero":false},"axis":{"orient":"top","values":[1993,1994,1995,1996,1997,1998,1999,2000,2001,2002,2003,2004,2005,2006,2007,2008,2009,2010,2011,2012],"labels":false,"title":null}},"y":{"field":"P","type":"quantitative","scale":{"domain":[-0.68,0.68],"nice":false,"zero":false},"axis":{"orient":"right","values":[-0.6,-0.3,0,0.3,0.6],"labels":false,"title":null}}}},
{"data":{"name":"lab"},"transform":[{"filter":"datum.p==='I'"}],"mark":{"type":"text","align":"left","baseline":"alphabetic","fontSize":25},"encoding":{"x":{"datum":1994.2,"type":"quantitative","axis":null},"y":{"datum":0.39,"type":"quantitative","axis":null},"text":{"field":"name"}}},
{"data":{"name":"lab"},"transform":[{"filter":"datum.p==='I'"}],"mark":{"type":"text","align":"right","baseline":"alphabetic","fontSize":36},"encoding":{"x":{"datum":2011.5,"type":"quantitative","axis":null},"y":{"datum":-0.61,"type":"quantitative","axis":null},"text":{"field":"p"}}}]},
{"width":327,"height":159,"resolve":{"axis":{"x":"independent","y":"independent"}},"layer":[
{"data":{"name":"bars"},"transform":[{"filter":"datum.p==='D'"}],"mark":{"type":"rule","strokeWidth":8,"color":"#c4c8ca"},"encoding":{"x":{"field":"y","type":"quantitative","scale":{"domain":[1993,2012],"nice":false,"zero":false},"axis":null},"y":{"field":"lo","type":"quantitative","scale":{"domain":[-0.68,0.68],"nice":false,"zero":false},"axis":null},"y2":{"field":"hi"}}},
{"data":{"name":"d"},"transform":[{"filter":"datum.p==='D' && datum.P != null"}],"mark":{"type":"tick","orient":"horizontal","size":9,"thickness":3,"color":"#c4c8ca","opacity":1},"encoding":{"x":{"field":"y","type":"quantitative","axis":null},"y":{"field":"P","type":"quantitative","axis":null}}},
{"data":{"name":"d"},"transform":[{"filter":"datum.p==='D'"},{"fold":["TA","Q","TO","M1","M2"],"as":["k","v"]}],"mark":{"type":"line","strokeWidth":2.5},"encoding":{"x":{"field":"y","type":"quantitative","scale":{"domain":[1993,2012],"nice":false,"zero":false},"axis":{"orient":"bottom","values":[1993,1994,1995,1996,1997,1998,1999,2000,2001,2002,2003,2004,2005,2006,2007,2008,2009,2010,2011,2012],"labels":false,"title":null}},"y":{"field":"v","type":"quantitative","scale":{"domain":[-0.68,0.68],"nice":false,"zero":false},"axis":{"orient":"left","values":[-0.6,-0.3,0,0.3,0.6],"labelExpr":"datum.value == 0 ? '0' : (datum.value < 0 ? '-' : '') + format(abs(datum.value), '.1f')","title":"Terminus position / forcing","titleFontSize":33,"titleX":-52,"titleY":10,"titleAlign":"center","titleBaseline":"alphabetic","titleAngle":270}},"color":{"field":"k","type":"nominal","scale":{"domain":["TA","Q","TO","M1","M2"],"range":["#EEAA2E","#3D8FE6","#E04A1F","#7F2FE3","#72CF2E"]},"legend":null}}},
{"data":{"name":"d"},"transform":[{"filter":"datum.p==='D' && datum.P != null"}],"mark":{"type":"point","shape":"circle","size":110,"filled":false,"color":"black","strokeWidth":2.5,"opacity":1},"encoding":{"x":{"field":"y","type":"quantitative","scale":{"domain":[1993,2012],"nice":false,"zero":false},"axis":{"orient":"top","values":[1993,1994,1995,1996,1997,1998,1999,2000,2001,2002,2003,2004,2005,2006,2007,2008,2009,2010,2011,2012],"labels":false,"title":null}},"y":{"field":"P","type":"quantitative","scale":{"domain":[-0.68,0.68],"nice":false,"zero":false},"axis":{"orient":"right","values":[-0.6,-0.3,0,0.3,0.6],"labels":false,"title":null}}}},
{"data":{"name":"lab"},"transform":[{"filter":"datum.p==='D'"}],"mark":{"type":"text","align":"left","baseline":"alphabetic","fontSize":25},"encoding":{"x":{"datum":1994.2,"type":"quantitative","axis":null},"y":{"datum":0.39,"type":"quantitative","axis":null},"text":{"field":"name"}}},
{"data":{"name":"lab"},"transform":[{"filter":"datum.p==='D'"}],"mark":{"type":"text","align":"right","baseline":"alphabetic","fontSize":36},"encoding":{"x":{"datum":2011.5,"type":"quantitative","axis":null},"y":{"datum":-0.61,"type":"quantitative","axis":null},"text":{"field":"p"}}}]},
{"width":327,"height":159,"resolve":{"axis":{"x":"independent","y":"independent"}},"layer":[
{"data":{"name":"bars"},"transform":[{"filter":"datum.p==='J'"}],"mark":{"type":"rule","strokeWidth":8,"color":"#c4c8ca"},"encoding":{"x":{"field":"y","type":"quantitative","scale":{"domain":[1993,2012],"nice":false,"zero":false},"axis":null},"y":{"field":"lo","type":"quantitative","scale":{"domain":[-0.68,0.68],"nice":false,"zero":false},"axis":null},"y2":{"field":"hi"}}},
{"data":{"name":"d"},"transform":[{"filter":"datum.p==='J' && datum.P != null"}],"mark":{"type":"tick","orient":"horizontal","size":9,"thickness":3,"color":"#c4c8ca","opacity":1},"encoding":{"x":{"field":"y","type":"quantitative","axis":null},"y":{"field":"P","type":"quantitative","axis":null}}},
{"data":{"name":"d"},"transform":[{"filter":"datum.p==='J'"},{"fold":["TA","Q","TO","M1","M2"],"as":["k","v"]}],"mark":{"type":"line","strokeWidth":2.5},"encoding":{"x":{"field":"y","type":"quantitative","scale":{"domain":[1993,2012],"nice":false,"zero":false},"axis":{"orient":"bottom","values":[1993,1994,1995,1996,1997,1998,1999,2000,2001,2002,2003,2004,2005,2006,2007,2008,2009,2010,2011,2012],"labels":false,"title":null}},"y":{"field":"v","type":"quantitative","scale":{"domain":[-0.68,0.68],"nice":false,"zero":false},"axis":{"orient":"left","values":[-0.6,-0.3,0,0.3,0.6],"labelExpr":"datum.value == 0 ? '0' : (datum.value < 0 ? '-' : '') + format(abs(datum.value), '.1f')","title":null}},"color":{"field":"k","type":"nominal","scale":{"domain":["TA","Q","TO","M1","M2"],"range":["#EEAA2E","#3D8FE6","#E04A1F","#7F2FE3","#72CF2E"]},"legend":null}}},
{"data":{"name":"d"},"transform":[{"filter":"datum.p==='J' && datum.P != null"}],"mark":{"type":"point","shape":"circle","size":110,"filled":false,"color":"black","strokeWidth":2.5,"opacity":1},"encoding":{"x":{"field":"y","type":"quantitative","scale":{"domain":[1993,2012],"nice":false,"zero":false},"axis":{"orient":"top","values":[1993,1994,1995,1996,1997,1998,1999,2000,2001,2002,2003,2004,2005,2006,2007,2008,2009,2010,2011,2012],"labels":false,"title":null}},"y":{"field":"P","type":"quantitative","scale":{"domain":[-0.68,0.68],"nice":false,"zero":false},"axis":{"orient":"right","values":[-0.6,-0.3,0,0.3,0.6],"labels":false,"title":null}}}},
{"data":{"name":"lab"},"transform":[{"filter":"datum.p==='J'"}],"mark":{"type":"text","align":"left","baseline":"alphabetic","fontSize":25},"encoding":{"x":{"datum":1994.2,"type":"quantitative","axis":null},"y":{"datum":0.39,"type":"quantitative","axis":null},"text":{"field":"name"}}},
{"data":{"name":"lab"},"transform":[{"filter":"datum.p==='J'"}],"mark":{"type":"text","align":"right","baseline":"alphabetic","fontSize":36},"encoding":{"x":{"datum":2011.5,"type":"quantitative","axis":null},"y":{"datum":-0.61,"type":"quantitative","axis":null},"text":{"field":"p"}}}]},
{"width":327,"height":159,"resolve":{"axis":{"x":"independent","y":"independent"}},"layer":[
{"data":{"name":"bars"},"transform":[{"filter":"datum.p==='E'"}],"mark":{"type":"rule","strokeWidth":8,"color":"#c4c8ca"},"encoding":{"x":{"field":"y","type":"quantitative","scale":{"domain":[1993,2012],"nice":false,"zero":false},"axis":null},"y":{"field":"lo","type":"quantitative","scale":{"domain":[-0.68,0.68],"nice":false,"zero":false},"axis":null},"y2":{"field":"hi"}}},
{"data":{"name":"d"},"transform":[{"filter":"datum.p==='E' && datum.P != null"}],"mark":{"type":"tick","orient":"horizontal","size":9,"thickness":3,"color":"#c4c8ca","opacity":1},"encoding":{"x":{"field":"y","type":"quantitative","axis":null},"y":{"field":"P","type":"quantitative","axis":null}}},
{"data":{"name":"d"},"transform":[{"filter":"datum.p==='E'"},{"fold":["TA","Q","TO","M1","M2"],"as":["k","v"]}],"mark":{"type":"line","strokeWidth":2.5},"encoding":{"x":{"field":"y","type":"quantitative","scale":{"domain":[1993,2012],"nice":false,"zero":false},"axis":{"orient":"bottom","values":[1993,1994,1995,1996,1997,1998,1999,2000,2001,2002,2003,2004,2005,2006,2007,2008,2009,2010,2011,2012],"labels":false,"title":null}},"y":{"field":"v","type":"quantitative","scale":{"domain":[-0.68,0.68],"nice":false,"zero":false},"axis":{"orient":"left","values":[-0.6,-0.3,0,0.3,0.6],"labelExpr":"datum.value == 0 ? '0' : (datum.value < 0 ? '-' : '') + format(abs(datum.value), '.1f')","title":null}},"color":{"field":"k","type":"nominal","scale":{"domain":["TA","Q","TO","M1","M2"],"range":["#EEAA2E","#3D8FE6","#E04A1F","#7F2FE3","#72CF2E"]},"legend":null}}},
{"data":{"name":"d"},"transform":[{"filter":"datum.p==='E' && datum.P != null"}],"mark":{"type":"point","shape":"circle","size":110,"filled":false,"color":"black","strokeWidth":2.5,"opacity":1},"encoding":{"x":{"field":"y","type":"quantitative","scale":{"domain":[1993,2012],"nice":false,"zero":false},"axis":{"orient":"top","values":[1993,1994,1995,1996,1997,1998,1999,2000,2001,2002,2003,2004,2005,2006,2007,2008,2009,2010,2011,2012],"labels":false,"title":null}},"y":{"field":"P","type":"quantitative","scale":{"domain":[-0.68,0.68],"nice":false,"zero":false},"axis":{"orient":"right","values":[-0.6,-0.3,0,0.3,0.6],"labels":false,"title":null}}}},
{"data":{"name":"lab"},"transform":[{"filter":"datum.p==='E'"}],"mark":{"type":"text","align":"left","baseline":"alphabetic","fontSize":25},"encoding":{"x":{"datum":1994.2,"type":"quantitative","axis":null},"y":{"datum":0.39,"type":"quantitative","axis":null},"text":{"field":"name"}}},
{"data":{"name":"lab"},"transform":[{"filter":"datum.p==='E'"}],"mark":{"type":"text","align":"right","baseline":"alphabetic","fontSize":36},"encoding":{"x":{"datum":2011.5,"type":"quantitative","axis":null},"y":{"datum":-0.61,"type":"quantitative","axis":null},"text":{"field":"p"}}}]},
{"width":327,"height":159,"resolve":{"axis":{"x":"independent","y":"independent"}},"layer":[
{"data":{"name":"bars"},"transform":[{"filter":"datum.p==='K'"}],"mark":{"type":"rule","strokeWidth":8,"color":"#c4c8ca"},"encoding":{"x":{"field":"y","type":"quantitative","scale":{"domain":[1993,2012],"nice":false,"zero":false},"axis":null},"y":{"field":"lo","type":"quantitative","scale":{"domain":[-0.68,0.68],"nice":false,"zero":false},"axis":null},"y2":{"field":"hi"}}},
{"data":{"name":"d"},"transform":[{"filter":"datum.p==='K'"},{"fold":["TA","Q","TO","M1","M2"],"as":["k","v"]}],"mark":{"type":"line","strokeWidth":2.5},"encoding":{"x":{"field":"y","type":"quantitative","scale":{"domain":[1993,2012],"nice":false,"zero":false},"axis":{"orient":"bottom","values":[1993,1994,1995,1996,1997,1998,1999,2000,2001,2002,2003,2004,2005,2006,2007,2008,2009,2010,2011,2012],"labels":false,"title":null}},"y":{"field":"v","type":"quantitative","scale":{"domain":[-0.68,0.68],"nice":false,"zero":false},"axis":{"orient":"left","values":[-0.6,-0.3,0,0.3,0.6],"labelExpr":"datum.value == 0 ? '0' : (datum.value < 0 ? '-' : '') + format(abs(datum.value), '.1f')","title":null}},"color":{"field":"k","type":"nominal","scale":{"domain":["TA","Q","TO","M1","M2"],"range":["#EEAA2E","#3D8FE6","#E04A1F","#7F2FE3","#72CF2E"]},"legend":null}}},
{"data":{"name":"d"},"transform":[{"filter":"datum.p==='K' && datum.P != null"}],"mark":{"type":"point","shape":"circle","size":110,"filled":false,"color":"black","strokeWidth":2.5,"opacity":1},"encoding":{"x":{"field":"y","type":"quantitative","scale":{"domain":[1993,2012],"nice":false,"zero":false},"axis":{"orient":"top","values":[1993,1994,1995,1996,1997,1998,1999,2000,2001,2002,2003,2004,2005,2006,2007,2008,2009,2010,2011,2012],"labels":false,"title":null}},"y":{"field":"P","type":"quantitative","scale":{"domain":[-0.68,0.68],"nice":false,"zero":false},"axis":{"orient":"right","values":[-0.6,-0.3,0,0.3,0.6],"labels":false,"title":null}}}},
{"data":{"name":"lab"},"transform":[{"filter":"datum.p==='K'"}],"mark":{"type":"text","align":"left","baseline":"alphabetic","fontSize":25},"encoding":{"x":{"datum":1994.2,"type":"quantitative","axis":null},"y":{"datum":0.39,"type":"quantitative","axis":null},"text":{"field":"name"}}},
{"data":{"name":"lab"},"transform":[{"filter":"datum.p==='K'"}],"mark":{"type":"text","align":"right","baseline":"alphabetic","fontSize":36},"encoding":{"x":{"datum":2011.5,"type":"quantitative","axis":null},"y":{"datum":-0.61,"type":"quantitative","axis":null},"text":{"field":"p"}}}]},
{"width":327,"height":159,"resolve":{"axis":{"x":"independent","y":"independent"}},"layer":[
{"data":{"name":"bars"},"transform":[{"filter":"datum.p==='F'"}],"mark":{"type":"rule","strokeWidth":8,"color":"#c4c8ca"},"encoding":{"x":{"field":"y","type":"quantitative","scale":{"domain":[1993,2012],"nice":false,"zero":false},"axis":null},"y":{"field":"lo","type":"quantitative","scale":{"domain":[-0.68,0.68],"nice":false,"zero":false},"axis":null},"y2":{"field":"hi"}}},
{"data":{"name":"d"},"transform":[{"filter":"datum.p==='F'"},{"fold":["TA","Q","TO","M1","M2"],"as":["k","v"]}],"mark":{"type":"line","strokeWidth":2.5},"encoding":{"x":{"field":"y","type":"quantitative","scale":{"domain":[1993,2012],"nice":false,"zero":false},"axis":{"orient":"bottom","values":[1993,1994,1995,1996,1997,1998,1999,2000,2001,2002,2003,2004,2005,2006,2007,2008,2009,2010,2011,2012],"labelExpr":"datum.value % 5 === 0 ? '' + datum.value : ''","labelPadding":15,"title":"Year","titlePadding":13}},"y":{"field":"v","type":"quantitative","scale":{"domain":[-0.68,0.68],"nice":false,"zero":false},"axis":{"orient":"left","values":[-0.6,-0.3,0,0.3,0.6],"labelExpr":"datum.value == 0 ? '0' : (datum.value < 0 ? '-' : '') + format(abs(datum.value), '.1f')","title":null}},"color":{"field":"k","type":"nominal","scale":{"domain":["TA","Q","TO","M1","M2"],"range":["#EEAA2E","#3D8FE6","#E04A1F","#7F2FE3","#72CF2E"]},"legend":null}}},
{"data":{"name":"d"},"transform":[{"filter":"datum.p==='F' && datum.P != null"}],"mark":{"type":"point","shape":"circle","size":110,"filled":false,"color":"black","strokeWidth":2.5,"opacity":1},"encoding":{"x":{"field":"y","type":"quantitative","scale":{"domain":[1993,2012],"nice":false,"zero":false},"axis":{"orient":"top","values":[1993,1994,1995,1996,1997,1998,1999,2000,2001,2002,2003,2004,2005,2006,2007,2008,2009,2010,2011,2012],"labels":false,"title":null}},"y":{"field":"P","type":"quantitative","scale":{"domain":[-0.68,0.68],"nice":false,"zero":false},"axis":{"orient":"right","values":[-0.6,-0.3,0,0.3,0.6],"labels":false,"title":null}}}},
{"data":{"name":"lab"},"transform":[{"filter":"datum.p==='F'"}],"mark":{"type":"text","align":"left","baseline":"alphabetic","fontSize":25},"encoding":{"x":{"datum":1994.2,"type":"quantitative","axis":null},"y":{"datum":0.39,"type":"quantitative","axis":null},"text":{"field":"name"}}},
{"data":{"name":"lab"},"transform":[{"filter":"datum.p==='F'"}],"mark":{"type":"text","align":"right","baseline":"alphabetic","fontSize":36},"encoding":{"x":{"datum":2011.5,"type":"quantitative","axis":null},"y":{"datum":-0.61,"type":"quantitative","axis":null},"text":{"field":"p"}}}]},
{"width":327,"height":159,"resolve":{"axis":{"x":"independent","y":"independent"}},"layer":[
{"data":{"name":"bars"},"transform":[{"filter":"datum.p==='L'"}],"mark":{"type":"rule","strokeWidth":8,"color":"#c4c8ca"},"encoding":{"x":{"field":"y","type":"quantitative","scale":{"domain":[1993,2012],"nice":false,"zero":false},"axis":null},"y":{"field":"lo","type":"quantitative","scale":{"domain":[-0.68,0.68],"nice":false,"zero":false},"axis":null},"y2":{"field":"hi"}}},
{"data":{"name":"d"},"transform":[{"filter":"datum.p==='L'"},{"fold":["TA","Q","TO","M1","M2"],"as":["k","v"]}],"mark":{"type":"line","strokeWidth":2.5},"encoding":{"x":{"field":"y","type":"quantitative","scale":{"domain":[1993,2012],"nice":false,"zero":false},"axis":{"orient":"bottom","values":[1993,1994,1995,1996,1997,1998,1999,2000,2001,2002,2003,2004,2005,2006,2007,2008,2009,2010,2011,2012],"labelExpr":"datum.value % 5 === 0 ? '' + datum.value : ''","labelPadding":15,"title":"Year","titlePadding":13}},"y":{"field":"v","type":"quantitative","scale":{"domain":[-0.68,0.68],"nice":false,"zero":false},"axis":{"orient":"left","values":[-0.6,-0.3,0,0.3,0.6],"labelExpr":"datum.value == 0 ? '0' : (datum.value < 0 ? '-' : '') + format(abs(datum.value), '.1f')","title":null}},"color":{"field":"k","type":"nominal","scale":{"domain":["TA","Q","TO","M1","M2"],"range":["#EEAA2E","#3D8FE6","#E04A1F","#7F2FE3","#72CF2E"]},"legend":null}}},
{"data":{"name":"d"},"transform":[{"filter":"datum.p==='L' && datum.P != null"}],"mark":{"type":"point","shape":"circle","size":110,"filled":false,"color":"black","strokeWidth":2.5,"opacity":1},"encoding":{"x":{"field":"y","type":"quantitative","scale":{"domain":[1993,2012],"nice":false,"zero":false},"axis":{"orient":"top","values":[1993,1994,1995,1996,1997,1998,1999,2000,2001,2002,2003,2004,2005,2006,2007,2008,2009,2010,2011,2012],"labels":false,"title":null}},"y":{"field":"P","type":"quantitative","scale":{"domain":[-0.68,0.68],"nice":false,"zero":false},"axis":{"orient":"right","values":[-0.6,-0.3,0,0.3,0.6],"labels":false,"title":null}}}},
{"data":{"name":"lab"},"transform":[{"filter":"datum.p==='L'"}],"mark":{"type":"text","align":"left","baseline":"alphabetic","fontSize":25},"encoding":{"x":{"datum":1994.2,"type":"quantitative","axis":null},"y":{"datum":0.39,"type":"quantitative","axis":null},"text":{"field":"name"}}},
{"data":{"name":"lab"},"transform":[{"filter":"datum.p==='L'"}],"mark":{"type":"text","align":"right","baseline":"alphabetic","fontSize":36},"encoding":{"x":{"datum":2011.5,"type":"quantitative","axis":null},"y":{"datum":-0.61,"type":"quantitative","axis":null},"text":{"field":"p"}}}]}
]},
{"width":707,"height":2,"view":{"stroke":null},"data":{"name":"leg"},"layer":[
{"transform":[{"filter":"datum.k !== 'P'"}],"mark":{"type":"tick","orient":"horizontal","size":62,"thickness":3,"opacity":1},"encoding":{"x":{"field":"k","type":"nominal","scale":{"type":"point","domain":["TA","Q","TO","M1","M2","P"],"range":[122,583],"padding":0},"axis":null},"color":{"field":"k","type":"nominal","scale":{"domain":["TA","Q","TO","M1","M2"],"range":["#EEAA2E","#3D8FE6","#E04A1F","#7F2FE3","#72CF2E"]},"legend":null}}},
{"transform":[{"filter":"datum.k === 'P'"}],"mark":{"type":"point","shape":"circle","size":110,"filled":false,"color":"black","strokeWidth":2.5,"opacity":1,"yOffset":-4},"encoding":{"x":{"field":"k","type":"nominal","axis":null}}},
{"transform":[{"filter":"datum.s !== ''"}],"mark":{"type":"text","align":"right","baseline":"alphabetic","dx":2,"dy":34,"fontSize":24,"fontStyle":"italic"},"encoding":{"x":{"field":"k","type":"nominal","axis":null},"text":{"field":"m"}}},
{"transform":[{"filter":"datum.s === ''"}],"mark":{"type":"text","align":"center","baseline":"alphabetic","dy":34,"fontSize":24,"fontStyle":"italic"},"encoding":{"x":{"field":"k","type":"nominal","axis":null},"text":{"field":"m"}}},
{"transform":[{"filter":"datum.s !== ''"}],"mark":{"type":"text","align":"left","baseline":"alphabetic","dx":3,"dy":43,"fontSize":17,"fontStyle":"italic"},"encoding":{"x":{"field":"k","type":"nominal","axis":null},"text":{"field":"s"}}}
]}
],
"spacing":-2
}
